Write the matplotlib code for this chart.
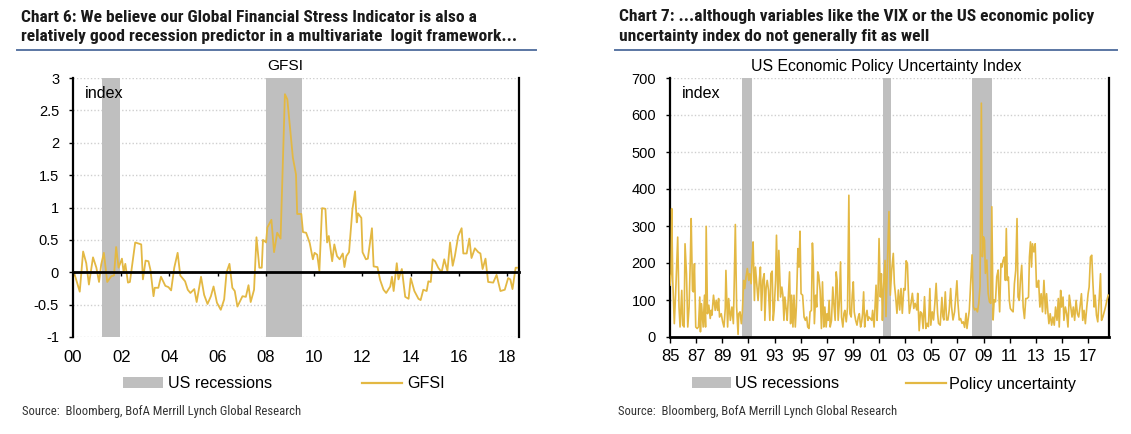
import matplotlib
matplotlib.use('Agg')
import matplotlib.pyplot as plt
from matplotlib import font_manager as fm
from matplotlib.patches import Patch
from matplotlib.lines import Line2D

# ---------------- data ----------------
TITLE6 = ["Chart 6: We believe our Global Financial Stress Indicator is also a",
          "relatively good recession predictor in a multivariate  logit framework..."]
TITLE7 = ["Chart 7: ...although variables like the VIX or the US economic policy",
          "uncertainty index do not generally fit as well"]
SUB6 = "GFSI"
SUB7 = "US Economic Policy Uncertainty Index"
SOURCE = "Source:  Bloomberg, BofA Merrill Lynch Global Research"

REC6 = [(2001.2, 2001.95), (2008.0, 2009.5)]
REC7 = [(1990.5, 1991.3), (2001.3, 2001.95), (2008.1, 2009.67)]

GFSI_X = [2000.04, 2000.28, 2000.42, 2000.55, 2000.66, 2000.83, 2000.97, 2001.08, 2001.17, 2001.28,
          2001.42, 2001.59, 2001.70, 2001.79, 2001.89, 2002.03, 2002.10, 2002.17, 2002.28, 2002.36,
          2002.58, 2002.83, 2002.90, 2003.01, 2003.13, 2003.21, 2003.34, 2003.39, 2003.54, 2003.65,
          2003.83, 2003.96, 2004.07, 2004.20, 2004.34, 2004.45, 2004.65, 2004.76, 2004.87, 2005.03,
          2005.13, 2005.31, 2005.44, 2005.58, 2005.72, 2005.83, 2005.97, 2006.13, 2006.27, 2006.37,
          2006.49, 2006.61, 2006.71, 2006.82, 2007.03, 2007.17, 2007.28, 2007.37, 2007.51, 2007.61,
          2007.73, 2007.83, 2007.88, 2008.01, 2008.06, 2008.23, 2008.34, 2008.47, 2008.61, 2008.79,
          2008.89, 2009.12, 2009.25, 2009.30, 2009.47, 2009.54, 2009.67, 2009.82, 2009.95, 2010.02,
          2010.13, 2010.22, 2010.33, 2010.47, 2010.54, 2010.61, 2010.75, 2010.84, 2010.95, 2011.06,
          2011.19, 2011.26, 2011.34, 2011.45, 2011.59, 2011.70, 2011.77, 2011.82, 2011.96, 2012.01,
          2012.15, 2012.23, 2012.40, 2012.47, 2012.63, 2012.74, 2012.88, 2012.99, 2013.16, 2013.23,
          2013.30, 2013.43, 2013.50, 2013.64, 2013.78, 2013.92, 2014.01, 2014.16, 2014.33, 2014.42,
          2014.53, 2014.67, 2014.74, 2014.84, 2014.92, 2015.02, 2015.15, 2015.29, 2015.40, 2015.53,
          2015.64, 2015.75, 2015.84, 2015.98, 2016.12, 2016.19, 2016.33, 2016.44, 2016.53, 2016.67,
          2016.81, 2016.90, 2016.99, 2017.11, 2017.22, 2017.43, 2017.57, 2017.73, 2017.91, 2018.05,
          2018.14, 2018.23, 2018.36, 2018.42]
GFSI_Y = [0.00, -0.30, 0.32, 0.14, -0.19, 0.23, 0.07, -0.15, 0.12, 0.30,
          -0.15, -0.06, -0.05, 0.39, 0.07, 0.21, 0.00, 0.13, -0.16, -0.15,
          0.46, 0.43, -0.11, 0.18, 0.17, 0.04, -0.37, -0.24, -0.24, -0.07,
          -0.21, -0.23, -0.28, 0.07, 0.30, -0.05, -0.14, -0.27, -0.32, -0.26,
          -0.46, -0.07, -0.35, -0.49, -0.37, -0.22, -0.47, -0.58, -0.42, 0.00,
          0.13, -0.24, -0.29, -0.53, -0.37, -0.38, -0.20, -0.46, -0.27, 0.54,
          0.07, 0.07, 0.50, 0.46, 0.69, 0.81, 0.31, 0.61, 0.52, 2.75,
          2.67, 1.77, 1.51, 0.90, 0.90, 0.62, 0.61, 0.45, 0.20, 0.30,
          0.27, 0.02, 0.99, 0.98, 0.46, 0.56, 0.17, 0.43, 0.25, 0.20,
          0.29, 0.08, 0.25, 0.31, 0.97, 1.25, 0.77, 0.91, 0.84, 0.31,
          0.20, 0.21, 0.68, 0.09, 0.08, -0.12, -0.27, -0.32, -0.22, -0.07,
          -0.29, 0.14, -0.11, 0.05, -0.38, -0.41, -0.09, -0.29, -0.41, -0.43,
          -0.27, -0.29, -0.14, -0.15, 0.20, 0.17, 0.07, 0.00, 0.20, 0.02,
          0.46, 0.10, 0.25, 0.56, 0.68, 0.29, 0.29, 0.52, 0.22, 0.37,
          0.31, 0.29, 0.05, 0.21, -0.15, -0.16, -0.04, -0.29, -0.27, -0.09,
          -0.11, -0.26, 0.07, 0.07]

EPU_X = [1985.00, 1985.08, 1985.13, 1985.21, 1985.33, 1985.46, 1985.59, 1985.69, 1985.77, 1985.90,
         1985.97, 1986.08, 1986.15, 1986.26, 1986.36, 1986.46, 1986.56, 1986.62, 1986.72, 1986.79,
         1986.87, 1986.97, 1987.08, 1987.18, 1987.28, 1987.33, 1987.41, 1987.54, 1987.64, 1987.72,
         1987.77, 1987.87, 1987.97, 1988.08, 1988.15, 1988.21, 1988.33, 1988.46, 1988.54, 1988.64,
         1988.72, 1988.79, 1988.92, 1989.03, 1989.13, 1989.23, 1989.28, 1989.41, 1989.49, 1989.62,
         1989.74, 1989.85, 1989.92, 1990.00, 1990.10, 1990.21, 1990.26, 1990.36, 1990.46, 1990.54,
         1990.64, 1990.72, 1990.82, 1990.92, 1991.03, 1991.10, 1991.21, 1991.28, 1991.36, 1991.46,
         1991.54, 1991.64, 1991.74, 1991.85, 1991.92, 1992.00, 1992.10, 1992.21, 1992.26, 1992.36,
         1992.44, 1992.54, 1992.64, 1992.72, 1992.82, 1992.90, 1992.97, 1993.08, 1993.15, 1993.26,
         1993.33, 1993.46, 1993.56, 1993.64, 1993.72, 1993.79, 1993.90, 1993.97, 1994.08, 1994.15,
         1994.23, 1994.31, 1994.41, 1994.49, 1994.59, 1994.67, 1994.79, 1994.87, 1994.95, 1995.03,
         1995.15, 1995.26, 1995.36, 1995.46, 1995.54, 1995.64, 1995.72, 1995.82, 1995.90, 1995.97,
         1996.05, 1996.15, 1996.23, 1996.31, 1996.38, 1996.49, 1996.59, 1996.67, 1996.77, 1996.85,
         1996.95, 1997.03, 1997.10, 1997.18, 1997.26, 1997.36, 1997.46, 1997.54, 1997.64, 1997.72,
         1997.79, 1997.87, 1997.97, 1998.05, 1998.13, 1998.23, 1998.31, 1998.38, 1998.49, 1998.59,
         1998.69, 1998.77, 1998.87, 1998.95, 1999.03, 1999.10, 1999.21, 1999.31, 1999.41, 1999.49,
         1999.59, 1999.67, 1999.74, 1999.82, 1999.90, 1999.97, 2000.08, 2000.15, 2000.23, 2000.33,
         2000.44, 2000.51, 2000.62, 2000.69, 2000.77, 2000.85, 2000.92, 2001.00, 2001.10, 2001.18,
         2001.26, 2001.33, 2001.46, 2001.53, 2001.66, 2001.76, 2001.86, 2001.96, 2002.09, 2002.17,
         2002.27, 2002.37, 2002.48, 2002.58, 2002.68, 2002.78, 2002.89, 2002.99, 2003.07, 2003.17,
         2003.24, 2003.32, 2003.45, 2003.55, 2003.66, 2003.76, 2003.89, 2003.96, 2004.07, 2004.17,
         2004.27, 2004.37, 2004.48, 2004.58, 2004.68, 2004.78, 2004.89, 2004.96, 2005.07, 2005.17,
         2005.27, 2005.37, 2005.48, 2005.55, 2005.68, 2005.81, 2005.89, 2005.96, 2006.07, 2006.17,
         2006.27, 2006.37, 2006.48, 2006.55, 2006.66, 2006.78, 2006.89, 2006.96, 2007.04, 2007.14,
         2007.24, 2007.35, 2007.45, 2007.55, 2007.66, 2007.73, 2007.81, 2007.91, 2008.01, 2008.12,
         2008.22, 2008.32, 2008.42, 2008.53, 2008.63, 2008.73, 2008.83, 2008.91, 2008.99, 2009.07,
         2009.14, 2009.25, 2009.35, 2009.45, 2009.55, 2009.63, 2009.73, 2009.81, 2009.91, 2010.01,
         2010.12, 2010.15, 2010.23, 2010.33, 2010.41, 2010.49, 2010.59, 2010.67, 2010.74, 2010.82,
         2010.90, 2010.97, 2011.05, 2011.15, 2011.26, 2011.36, 2011.46, 2011.56, 2011.64, 2011.74,
         2011.82, 2011.92, 2012.03, 2012.13, 2012.23, 2012.33, 2012.44, 2012.51, 2012.59, 2012.67,
         2012.74, 2012.85, 2012.95, 2013.05, 2013.13, 2013.21, 2013.31, 2013.41, 2013.51, 2013.62,
         2013.74, 2013.82, 2013.92, 2014.00, 2014.10, 2014.21, 2014.31, 2014.41, 2014.51, 2014.62,
         2014.72, 2014.79, 2014.90, 2014.97, 2015.08, 2015.15, 2015.26, 2015.36, 2015.46, 2015.56,
         2015.67, 2015.77, 2015.87, 2015.97, 2016.08, 2016.18, 2016.28, 2016.38, 2016.49, 2016.59,
         2016.69, 2016.79, 2016.90, 2017.00, 2017.08, 2017.18, 2017.28, 2017.36, 2017.46, 2017.54,
         2017.64, 2017.74, 2017.85, 2017.95, 2018.03, 2018.13, 2018.23, 2018.33, 2018.44, 2018.54]
EPU_Y = [140, 171, 347, 153, 36, 144, 270, 81, 27, 126,
         32, 27, 252, 171, 27, 81, 216, 320, 126, 122,
         198, 27, 23, 27, 108, 14, 90, 27, 113, 27,
         299, 63, 86, 50, 72, 59, 113, 72, 99, 72,
         104, 54, 63, 41, 27, 77, 180, 27, 104, 45,
         81, 36, 153, 304, 81, 7, 63, 68, 36, 68,
         153, 131, 162, 185, 153, 171, 144, 207, 257, 99,
         189, 144, 99, 158, 189, 72, 153, 171, 45, 135,
         153, 126, 45, 171, 178, 45, 72, 153, 275, 99,
         234, 108, 135, 113, 45, 108, 72, 45, 126, 176,
         36, 113, 27, 113, 27, 81, 239, 189, 286, 117,
         113, 54, 45, 54, 27, 23, 68, 72, 254, 198,
         36, 113, 81, 176, 167, 126, 23, 149, 27, 81,
         27, 63, 45, 99, 27, 45, 135, 90, 45, 176,
         153, 45, 99, 203, 54, 27, 63, 72, 41, 81,
         383, 63, 54, 113, 149, 68, 45, 32, 54, 63,
         27, 41, 63, 122, 27, 54, 72, 45, 54, 50,
         45, 72, 27, 81, 140, 45, 113, 266, 108, 171,
         45, 126, 207, 55, 222, 339, 113, 177, 226, 145,
         109, 64, 127, 73, 131, 64, 131, 127, 206, 199,
         127, 64, 91, 118, 77, 91, 73, 118, 17, 68,
         64, 23, 109, 23, 37, 28, 131, 32, 68, 46,
         91, 145, 64, 37, 32, 107, 55, 46, 122, 46,
         46, 73, 131, 82, 46, 68, 118, 152, 91, 46,
         50, 37, 41, 26, 64, 23, 46, 73, 145, 222,
         82, 73, 77, 68, 91, 136, 632, 217, 271, 262,
         172, 208, 118, 95, 91, 352, 46, 100, 95, 163,
         181, 135, 68, 198, 189, 207, 216, 153, 293, 153,
         162, 99, 77, 72, 68, 144, 180, 320, 108, 99,
         153, 194, 81, 50, 104, 104, 108, 216, 257, 189,
         252, 230, 252, 135, 135, 153, 81, 117, 68, 153,
         63, 117, 68, 36, 63, 32, 54, 32, 81, 45,
         104, 27, 126, 81, 108, 45, 81, 63, 27, 113,
         81, 54, 81, 45, 99, 63, 54, 81, 117, 45,
         72, 36, 81, 117, 135, 216, 221, 153, 81, 113,
         59, 41, 104, 171, 45, 54, 68, 81, 99, 113]

XT6 = [2000, 2002, 2004, 2006, 2008, 2010, 2012, 2014, 2016, 2018]
XL6 = ['00', '02', '04', '06', '08', '10', '12', '14', '16', '18']
YT6 = [-1, -0.5, 0, 0.5, 1, 1.5, 2, 2.5, 3]
YL6 = ['-1', '-0.5', '0', '0.5', '1', '1.5', '2', '2.5', '3']
XT7 = [1985, 1987, 1989, 1991, 1993, 1995, 1997, 1999, 2001, 2003, 2005, 2007, 2009, 2011, 2013, 2015, 2017]
XL7 = ['85', '87', '89', '91', '93', '95', '97', '99', '01', '03', '05', '07', '09', '11', '13', '15', '17']
YT7 = [0, 100, 200, 300, 400, 500, 600, 700]
YL7 = ['0', '100', '200', '300', '400', '500', '600', '700']

# ---------------- style ----------------
GOLD = '#E3B843'
GREY = '#BFBFBF'
GRID = '#CFCFCF'
RULE = '#5A76A3'
W, H = 1131, 434

avail = {f.name for f in fm.fontManager.ttflist}
def pick(*names):
    for n in names:
        if n in avail:
            return n
    return 'DejaVu Sans'
SANS = pick('Liberation Sans', 'Arial', 'DejaVu Sans')
COND = pick('Liberation Sans Narrow', 'Roboto Condensed', 'Open Sans Condensed', 'Liberation Sans')
plt.rcParams['font.family'] = [SANS, 'DejaVu Sans']

fig = plt.figure(figsize=(W / 100, H / 100), dpi=100, facecolor='white')
renderer = fig.canvas.get_renderer()

def px(x, y):
    return (x / W, 1 - y / H)

def fit(t, width):
    w = t.get_window_extent(renderer).width
    t.set_fontsize(t.get_fontsize() * width / w)
    return t.get_fontsize()

# titles
tkw = dict(fontfamily=[COND, 'DejaVu Sans'], fontweight='bold', color='#1a1a1a', va='center', ha='left')
t = fig.text(*px(21, 37), TITLE6[1], fontsize=11, **tkw)
fs_t = fit(t, 492)
fig.text(*px(21, 17), TITLE6[0], fontsize=fs_t, **tkw)
fig.text(*px(619, 17), TITLE7[0], fontsize=fs_t, **tkw)
fig.text(*px(619, 37), TITLE7[1], fontsize=fs_t, **tkw)
for x0, x1 in [(17, 536), (615, 1117)]:
    fig.add_artist(Line2D([x0 / W, x1 / W], [1 - 50 / H] * 2, color=RULE, lw=1.4))

# sources
skw = dict(fontfamily=[COND, 'DejaVu Sans'], color='#333333', va='center', ha='left')
s = fig.text(*px(22, 412), SOURCE, fontsize=8, **skw)
fs_s = fit(s, 279)
fig.text(*px(618, 412), SOURCE, fontsize=fs_s, **skw)

YTICKFS = 10.5
XTICKFS = 12
LABFS = 11.6

def base_axes(rect):
    ax = fig.add_axes(rect)
    ax.set_axisbelow(True)
    ax.grid(axis='y', linestyle=(0, (1, 1.5)), color=GRID, lw=1.0)
    for sp in ['left', 'right']:
        ax.spines[sp].set_linewidth(1.6)
        ax.spines[sp].set_color('black')
    ax.spines['top'].set_visible(False)
    ax.tick_params(axis='y', direction='out', length=3, width=1, pad=7, labelsize=YTICKFS, right=False)
    return ax

# ---------- Chart 6 ----------
ax1 = base_axes([73 / W, 1 - 337 / H, (519 - 73) / W, (337 - 78) / H])
for a, b in REC6:
    ax1.axvspan(a, b, color=GREY, lw=0, zorder=1)
ax1.plot(GFSI_X, GFSI_Y, color=GOLD, lw=1.3, zorder=3)
ax1.set_xlim(2000, 2018.5)
ax1.set_ylim(-1, 3)
ax1.set_yticks(YT6, YL6)
ax1.set_xticks(XT6, XL6)
ax1.spines['bottom'].set_visible(False)
ax1.tick_params(axis='x', length=0, pad=9, labelsize=XTICKFS)
sec = ax1.secondary_xaxis(0.25)
sec.set_xticks(XT6)
sec.tick_params(axis='x', direction='out', length=3, width=1, labelbottom=False, labeltop=False)
sec.spines['bottom'].set_linewidth(2)
sec.spines['bottom'].set_color('black')
sec.set_zorder(4)
ax1.text(85 / W, 1 - 94 / H, 'index', transform=fig.transFigure, fontsize=LABFS, va='center', ha='left')
fig.text(*px(285, 66), SUB6, fontsize=11.1, va='center', ha='center')

# ---------- Chart 7 ----------
ax2 = base_axes([670 / W, 1 - 337 / H, (1109 - 670) / W, (337 - 78) / H])
for a, b in REC7:
    ax2.axvspan(a, b, color=GREY, lw=0, zorder=1)
ax2.plot(EPU_X, EPU_Y, color=GOLD, lw=1.2, zorder=3)
ax2.set_xlim(1985, 2018.6)
ax2.set_ylim(0, 700)
ax2.set_yticks(YT7, YL7)
ax2.set_xticks(XT7, XL7)
ax2.spines['bottom'].set_linewidth(2)
ax2.tick_params(axis='x', direction='out', length=4, width=1, pad=4.5, labelsize=XTICKFS)
ax2.text(682 / W, 1 - 94 / H, 'index', transform=fig.transFigure, fontsize=LABFS, va='center', ha='left')
t7 = fig.text(*px(886.5, 66), SUB7, fontsize=11, va='center', ha='center')
fit(t7, 271)

# ---------- legends ----------
lab_px = LABFS * 100 / 72
def add_leg(handle, label, x, y, hlen, hgap, hh=11):
    fig.legend(handles=[handle], labels=[label], loc='center left', bbox_to_anchor=px(x, y),
               frameon=False, borderpad=0, borderaxespad=0, fontsize=LABFS,
               handlelength=hlen / lab_px, handleheight=hh / lab_px, handletextpad=hgap / lab_px)

patch = Patch(facecolor=GREY, edgecolor='none')
line = Line2D([], [], color=GOLD, lw=1.6)
add_leg(patch, 'US recessions', 123, 384, 40, 5)
add_leg(line, 'GFSI', 362, 384, 40, 5)
add_leg(patch, 'US recessions', 692, 384, 39, 4)
add_leg(line, 'Policy uncertainty', 906, 384, 40, 3)

fig.savefig('out.png', dpi=100, facecolor='white')
